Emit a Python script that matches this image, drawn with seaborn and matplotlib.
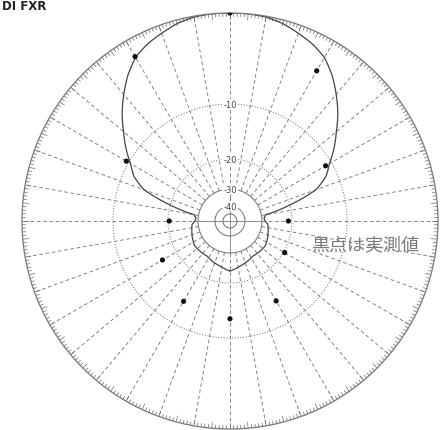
import numpy as np
import pandas as pd
import matplotlib
matplotlib.use("Agg")
import matplotlib.pyplot as plt
import seaborn as sns

# ---- data ----
# theoretical pattern (right half, degrees from front, dB)
curve_deg = [0, 5, 10, 15, 20, 25, 30, 35, 40, 45, 50, 55, 60, 65, 70, 75, 80, 85, 90,
             95, 105, 125, 147, 160, 167, 180]
curve_db = [0, 0, -0.1, -0.4, -0.9, -1.4, -2.1, -3.3, -4.7, -6.1, -7.6, -8.9, -10.4,
            -12.0, -14.6, -20.0, -28.5, -29.3, -29.0, -28.0, -27.5, -26.3, -26.7,
            -25.8, -25.3, -24.0]
# measured values (black dots)
meas_deg = [0, 30, -30, 60, -60, 90, -90, 120, -120, 150, -150, 180]
meas_db = [0, -3.8, -2.0, -11.2, -9.7, -21.2, -20.4, -19.8, -17.1, -14.5, -14.4, -13.5]
ring_labels = ["-10", "-20", "-30", "-40"]
ring_values = [-10, -20, -30, -40]
title_text = "DI FXR"
note_text = "黒点は実測値"

# radial scale (dB -> radius fraction), read from ring positions
scale_db = [-50, -45, -40, -30, -20, -10, 0]
scale_r = [0.0, 7 / 208, 15 / 208, 32 / 208, 62 / 208, 117 / 208, 1.0]


def rmap(db):
    return np.interp(db, scale_db, scale_r)


sns.set_style("white")
plt.rcParams['font.family'] = ['DejaVu Sans']

fig = plt.figure(figsize=(4.46, 4.31), dpi=100)
ax = fig.add_axes([0.0493, 0.0023, 0.9327, 0.9652], projection="polar")
ax.set_theta_zero_location("N")
ax.set_theta_direction(-1)
ax.set_ylim(0, 1)
ax.grid(False)
ax.set_xticks([])
ax.set_yticks([])
ax.spines["polar"].set_color("#777777")
ax.spines["polar"].set_linewidth(0.9)

grey = "#7a7a7a"
# radial dashed lines every 10 deg
r_in = rmap(-30)
for a in range(0, 360, 10):
    t = np.deg2rad(a)
    ax.plot([t, t], [r_in, 1], color=grey, lw=0.65, ls=(0, (4, 3)))
# degree ticks on outer circle
for a in range(0, 360):
    t = np.deg2rad(a)
    L = 6 / 208 if a % 5 == 0 else 3.5 / 208
    ax.plot([t, t], [1 - L, 1], color="#777777", lw=0.55)
# rings
th = np.linspace(0, 2 * np.pi, 721)
for v, style in zip([-10, -20, -30, -40, -45], [":", ":", "-", "-", "-"]):
    ax.plot(th, np.full_like(th, rmap(v)), color=grey, lw=0.75, ls=style)
# axis lines through center
for a in [0, 90, 180, 270]:
    t = np.deg2rad(a)
    ax.plot([t, t], [0, r_in], color=grey, lw=0.6)

# theoretical curve (mirror right half)
deg_full = np.array([-d for d in curve_deg[::-1]] + curve_deg[1:])
db_full = np.array(curve_db[::-1] + curve_db[1:])
dfc = pd.DataFrame({"theta": np.deg2rad(deg_full), "r": rmap(db_full)})
n_before = len(ax.lines)
sns.lineplot(data=dfc, x="theta", y="r", sort=False, ax=ax, color="#444444", lw=0.9)
for ln in ax.lines[n_before:]:
    ln.get_path()._interpolation_steps = 12

# measured dots
dfm = pd.DataFrame({"theta": np.deg2rad(meas_deg), "r": rmap(np.array(meas_db))})
sns.scatterplot(data=dfm, x="theta", y="r", ax=ax, color="#111111", s=14,
                edgecolor="none", zorder=5)
ax.set_xlabel("")
ax.set_ylabel("")
ax.set_ylim(0, 1)

# ring labels
for lab, v in zip(ring_labels, ring_values):
    ax.text(0, rmap(v), lab, ha="center", va="center", fontsize=6, color="#444444",
            bbox=dict(boxstyle="square,pad=0.1", fc="white", ec="none"), zorder=6)

fig.text(365 / 446, 1 - 245 / 431, note_text, ha="center", va="center",
         fontsize=13, color="#7a7a7a", family=["Noto Sans CJK JP", "DejaVu Sans"])
fig.text(2 / 446, 1 - 7 / 431, title_text, ha="left", va="center",
         fontsize=8.5, fontweight="bold", color="#222222")

fig.savefig("out.png", dpi=100)
